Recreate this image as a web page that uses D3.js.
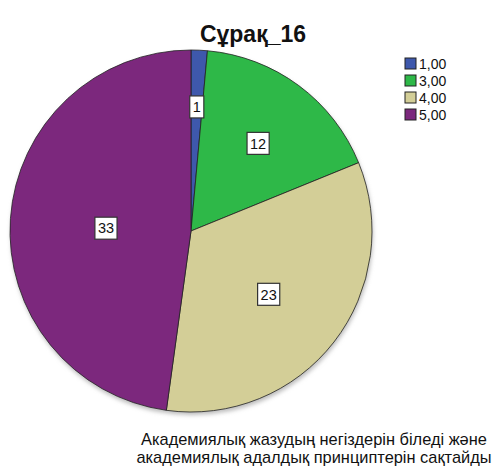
<!DOCTYPE html>
<html>
<head>
<meta charset="utf-8">
<script src="https://cdn.jsdelivr.net/npm/d3@7"></script>
<style>
  html, body { margin: 0; padding: 0; background: #fff; }
  svg { display: block; font-family: "Liberation Sans", Arial, sans-serif; }
</style>
</head>
<body>
<svg id="chart" width="500" height="474"></svg>
<script>
// Response categories and counts
const categories = ["1,00", "3,00", "4,00", "5,00"];
const counts = [1, 12, 23, 33];
const colors = ["#3E58AC", "#2EB848", "#D3CE97", "#7C287D"];
const title = "Сұрақ_16";
const caption = [
  "Академиялық жазудың негіздерін біледі және",
  "академиялық адалдық принциптерін сақтайды"
];

const svg = d3.select("#chart");
const cx = 191, cy = 231, R = 181;

const color = d3.scaleOrdinal().domain(categories).range(colors);
const data = categories.map((c, i) => ({ cat: c, value: counts[i] }));
const total = d3.sum(counts);

const pie = d3.pie().value(d => d.value).sort(null);
const arcs = pie(data);
const arc = d3.arc().innerRadius(0).outerRadius(R);

// soft drop shadow under the disc
const defs = svg.append("defs");
const f = defs.append("filter").attr("id", "shadow")
  .attr("x", "-10%").attr("y", "-10%").attr("width", "120%").attr("height", "120%");
f.append("feGaussianBlur").attr("stdDeviation", 2);

const g = svg.append("g").attr("transform", `translate(${cx},${cy})`);
g.append("circle").attr("cx", 1).attr("cy", 3).attr("r", R)
  .attr("fill", "#bbb").attr("filter", "url(#shadow)");

g.selectAll("path.slice").data(arcs).join("path")
  .attr("class", "slice")
  .attr("d", arc)
  .attr("fill", d => color(d.data.cat))
  .attr("stroke", "#222")
  .attr("stroke-width", 0.8);

// value labels: placed closer to the centre for larger slices
const labels = g.selectAll("g.lab").data(arcs).join("g").attr("class", "lab")
  .attr("transform", d => {
    const frac = d.data.value / total;
    const r = R * (0.71 - 0.5 * frac);
    const a = (d.startAngle + d.endAngle) / 2;
    return `translate(${r * Math.sin(a)},${-r * Math.cos(a) + 3})`;
  });
labels.each(function(d) {
  const s = d3.select(this);
  const t = s.append("text").text(d.data.value)
    .attr("text-anchor", "middle").attr("dy", "0.36em")
    .attr("font-size", 14.5).attr("fill", "#111");
  const bb = t.node().getBBox();
  s.insert("rect", "text")
    .attr("x", bb.x - 3).attr("y", -11)
    .attr("width", bb.width + 6).attr("height", 22)
    .attr("fill", "#fff").attr("stroke", "#333").attr("stroke-width", 1.2);
});

// title
svg.append("text").attr("x", 253).attr("y", 42)
  .attr("text-anchor", "middle").attr("font-size", 23).attr("font-weight", "bold")
  .attr("fill", "#111").text(title);

// legend
const lg = svg.append("g").attr("transform", "translate(405,58)");
const li = lg.selectAll("g").data(categories).join("g")
  .attr("transform", (d, i) => `translate(0,${i * 17})`);
li.append("rect").attr("width", 11).attr("height", 11)
  .attr("fill", d => color(d)).attr("stroke", "#222").attr("stroke-width", 1);
li.append("text").attr("x", 14).attr("y", 10.5).attr("font-size", 14)
  .attr("fill", "#111").text(d => d);

// caption
svg.append("g").selectAll("text").data(caption).join("text")
  .attr("x", 314).attr("y", (d, i) => 445 + i * 18)
  .attr("text-anchor", "middle").attr("font-size", 16.4).attr("fill", "#111")
  .text(d => d);
</script>
</body>
</html>
